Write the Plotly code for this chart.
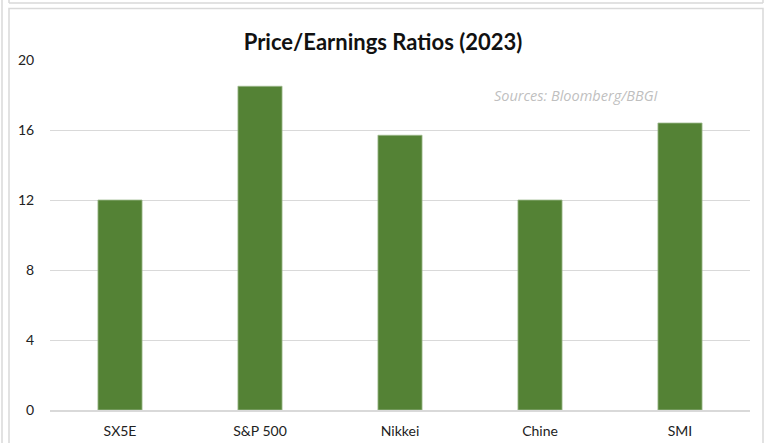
import plotly.graph_objects as go

categories = ["SX5E", "S&P 500", "Nikkei", "Chine", "SMI"]
pe_ratios = [12.0, 18.5, 15.7, 12.0, 16.4]
y_ticks = [0, 4, 8, 12, 16, 20]

W, H = 766, 443
L, R, T, B = 50, 16, 60, 33
pw, ph = W - L - R, H - T - B

def px(x):
    return (x - L) / pw

def py(y):
    return (H - B - y) / ph

fig = go.Figure(go.Bar(
    x=categories, y=pe_ratios,
    marker=dict(color="#548235", line=dict(color="#9fba8f", width=0.8)),
    width=0.315,
))

line = dict(color="#d9d9d9", width=1.5)
shapes = [
    dict(type="line", xref="paper", yref="paper", x0=px(2), x1=px(2), y0=py(0), y1=py(443), line=line),
    dict(type="line", xref="paper", yref="paper", x0=px(9), x1=px(9), y0=py(0), y1=py(3), line=line),
    dict(type="line", xref="paper", yref="paper", x0=px(9), x1=px(763), y0=py(3), y1=py(3), line=line),
    dict(type="line", xref="paper", yref="paper", x0=px(763), x1=px(763), y0=py(0), y1=py(3), line=line),
    dict(type="rect", xref="paper", yref="paper", x0=px(9), x1=px(763), y0=py(8.5), y1=py(450), line=line),
]

fig.update_layout(
    width=W, height=H,
    margin=dict(l=L, r=R, t=T, b=B, autoexpand=False),
    paper_bgcolor="white", plot_bgcolor="white",
    font=dict(family="Lato, Open Sans, sans-serif", size=14, color="#222222"),
    title=dict(text="<b>Price/Earnings Ratios (2023)</b>", x=0.5, xanchor="center",
               y=1 - 42 / H, yanchor="middle", font=dict(size=22, color="#111111")),
    showlegend=False,
    shapes=shapes,
    annotations=[dict(text="<i>Sources: Bloomberg/BBGI</i>", xref="paper", yref="paper",
                      x=px(576), y=py(95), xanchor="center", yanchor="middle", showarrow=False,
                      font=dict(family="Open Sans, sans-serif", size=14.5, color="#bfbfbf"))],
    xaxis=dict(showgrid=False, showline=True, linecolor="#d9d9d9", linewidth=1.5, automargin=False,
               ticks="outside", ticklen=7, tickcolor="rgba(0,0,0,0)", tickfont=dict(size=14)),
    yaxis=dict(range=[0, 20], tickvals=y_ticks, showgrid=True, gridcolor="#d9d9d9", gridwidth=1,
               zeroline=False, ticks="outside", ticklen=12, tickcolor="rgba(0,0,0,0)", automargin=False,
               tickfont=dict(size=14)),
    bargap=0.685,
)

fig.write_html("out.html")
